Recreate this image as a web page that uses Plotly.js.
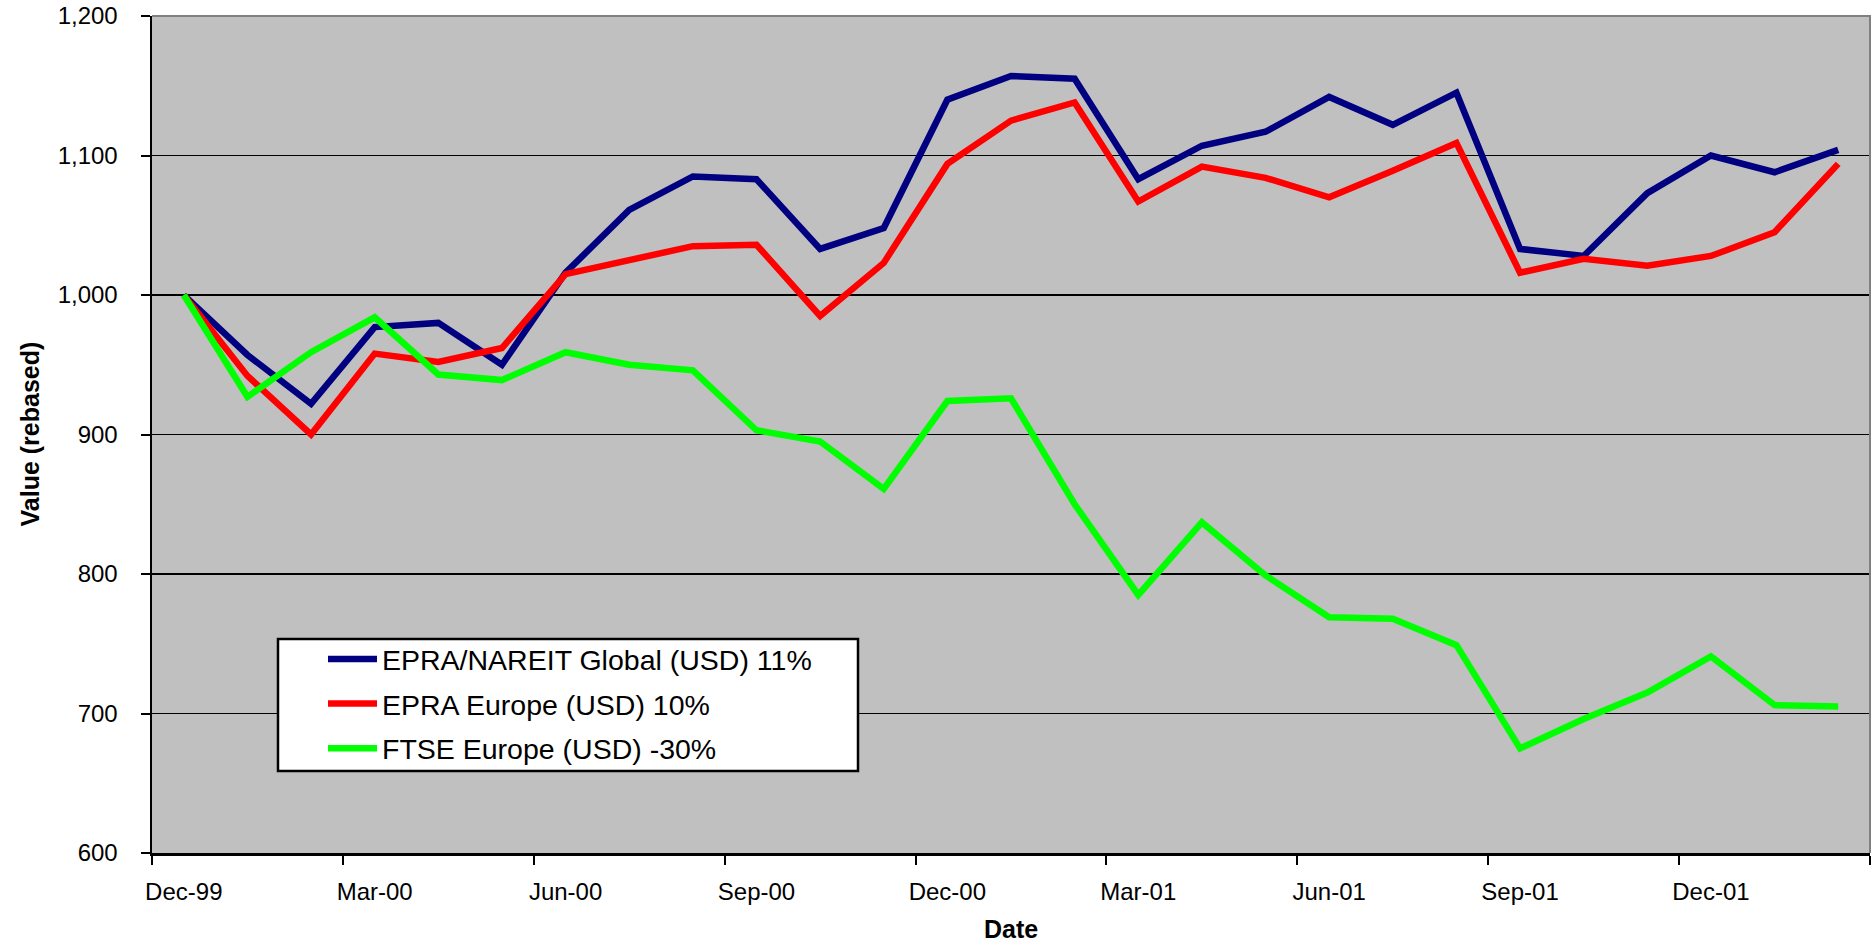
<!DOCTYPE html>
<html>
<head>
<meta charset="utf-8">
<script src="https://cdn.plot.ly/plotly-3.0.1.min.js"></script>
<style>
html,body{margin:0;padding:0;background:#fff;}
#chart{width:1872px;height:945px;}
</style>
</head>
<body>
<div id="chart"></div>
<script>
// ---- data ----
const months = ["Dec-99","Jan-00","Feb-00","Mar-00","Apr-00","May-00","Jun-00","Jul-00","Aug-00",
  "Sep-00","Oct-00","Nov-00","Dec-00","Jan-01","Feb-01","Mar-01","Apr-01","May-01","Jun-01",
  "Jul-01","Aug-01","Sep-01","Oct-01","Nov-01","Dec-01","Jan-02","Feb-02"];

const globalUSD = [1000,957,922,977,980,950,1016,1061,1085,1083,1033,1048,1140,1157,1155,
  1083,1107,1117,1142,1122,1145,1033,1028,1073,1100,1088,1104];

const europeUSD = [1000,942,900,958,952,962,1015,1025,1035,1036,985,1023,1094,1125,1138,
  1067,1092,1084,1070,1089,1109,1016,1026,1021,1028,1045,1094];

const ftseUSD = [1000,927,959,984,943,939,959,950,946,903,895,861,924,926,850,
  785,837,799,769,768,749,675,696,715,741,706,705];

const seriesNames = ["EPRA/NAREIT Global (USD) 11%","EPRA Europe (USD) 10%","FTSE Europe (USD) -30%"];
const seriesColors = ["#000080","#FF0000","#00FF00"];
const yTickVals = [600,700,800,900,1000,1100,1200];

const FONT = "Liberation Sans, Arial, sans-serif";

// plot-area geometry in page pixels (for paper-coordinate conversions)
const PL = 152, PR = 1870, PT = 16, PB = 853;
const px2x = p => (p - PL) / (PR - PL);
const px2y = p => (PB - p) / (PB - PT);

const seriesValues = [globalUSD, europeUSD, ftseUSD];
const traces = seriesValues.map((vals, i) => ({
  type: "scatter",
  mode: "lines",
  x: months,
  y: vals,
  name: seriesNames[i],
  legendgroup: "g" + i,
  line: {color: seriesColors[i], width: 6.5, shape: "linear"},
  hoverinfo: "x+y+name"
}));

const layout = {
  width: 1872,
  height: 945,
  margin: {l: PL, r: 1872 - PR, t: PT, b: 945 - PB, pad: 0},
  paper_bgcolor: "#ffffff",
  plot_bgcolor: "#C0C0C0",
  font: {family: FONT, size: 24, color: "#000"},
  showlegend: true,
  legend: {
    x: px2x(323), y: px2y(634), xanchor: "left", yanchor: "top",
    bgcolor: "rgba(0,0,0,0)", borderwidth: 0,
    font: {family: FONT, size: 28.5, color: "#000"},
    tracegroupgap: 4.5,
    itemwidth: 49
  },
  xaxis: {
    type: "category",
    range: [-0.5, 26.5],
    tickmode: "linear", tick0: 0, dtick: 3,
    tickson: "boundaries",
    tickangle: 0,
    ticks: "outside", ticklen: 9, tickwidth: 2, tickcolor: "#000",
    showline: true, linecolor: "#000", linewidth: 2.5,
    showgrid: false, zeroline: false,
    tickfont: {family: FONT, size: 24, color: "#000"},
    ticklabelstandoff: 16,
    fixedrange: true
  },
  yaxis: {
    range: [600, 1200],
    tickmode: "array", tickvals: yTickVals,
    tickformat: ",d",
    ticks: "outside", ticklen: 9, tickwidth: 2, tickcolor: "#000",
    showline: true, linecolor: "#000", linewidth: 2.5,
    showgrid: true, gridcolor: "#000", gridwidth: 1.5,
    zeroline: false,
    tickfont: {family: FONT, size: 24, color: "#000"},
    ticklabelstandoff: 18,
    fixedrange: true
  },
  shapes: [
    {
      type: "path", xref: "paper", yref: "paper",
      path: "M 0,1 L 1,1 L 1,0",
      line: {color: "#808080", width: 2},
      layer: "above"
    },
    {
      // legend frame
      type: "rect", xref: "paper", yref: "paper",
      x0: px2x(278), x1: px2x(858), y0: px2y(771), y1: px2y(639),
      fillcolor: "#ffffff", line: {color: "#000", width: 2.5},
      layer: "above"
    }
  ],
  annotations: [
    {text: "<b>Value (rebased)</b>", textangle: -90, xref: "paper", yref: "paper",
     x: px2x(29), y: 0.5, xanchor: "center", yanchor: "middle",
     showarrow: false, font: {family: FONT, size: 25, color: "#000"}},
    {text: "<b>Date</b>", xref: "paper", yref: "paper",
     x: 0.5, y: px2y(929), xanchor: "center", yanchor: "middle",
     showarrow: false, font: {family: FONT, size: 25, color: "#000"}}
  ]
};

Plotly.newPlot("chart", traces, layout, {displayModeBar: false, staticPlot: true});
</script>
</body>
</html>
